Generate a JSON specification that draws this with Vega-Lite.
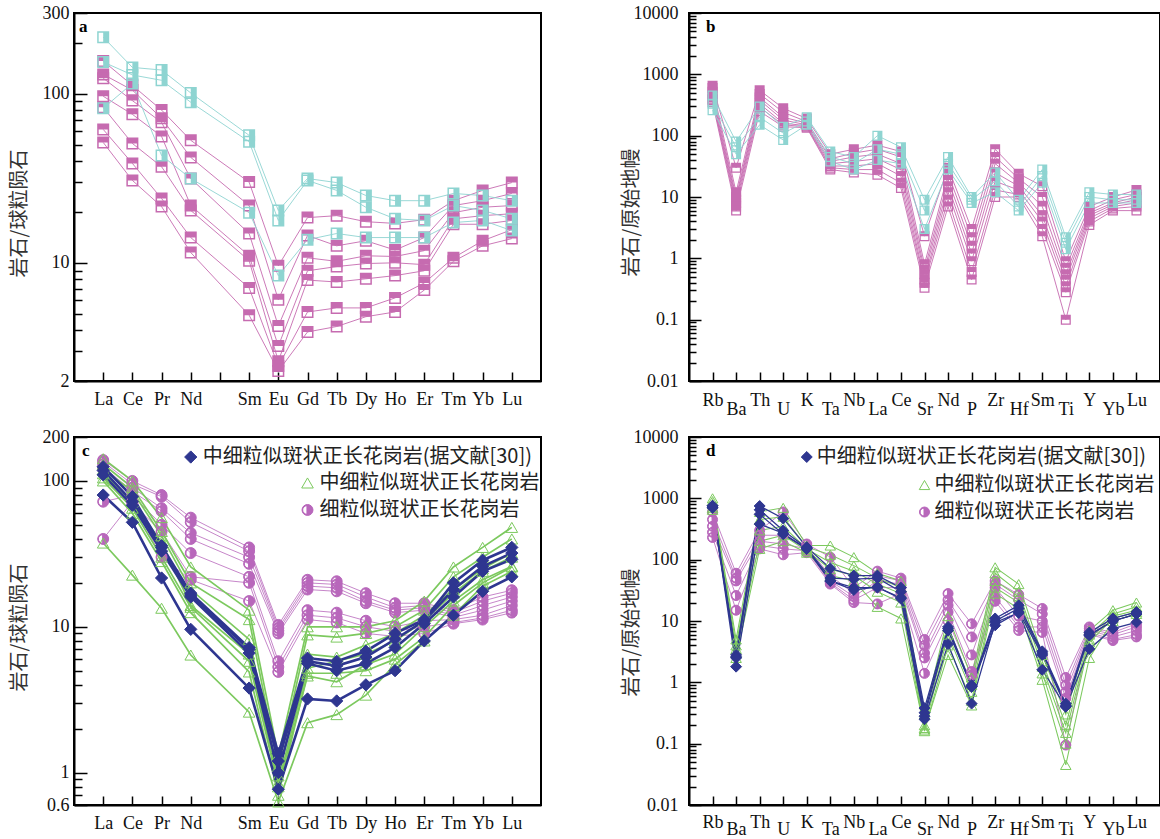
{
"$schema": "https://vega.github.io/schema/vega-lite/v6.json",
"background": "white",
"padding": {"left": 8, "top": 3, "right": 0, "bottom": 0},
"datasets": {
"a": [
{"g":"z","i":1,"e":"La","v":156},{"g":"z","i":1,"e":"Ce","v":112},{"g":"z","i":1,"e":"Pr","v":80},{"g":"z","i":1,"e":"Nd","v":53},{"g":"z","i":1,"e":"Sm","v":30},{"g":"z","i":1,"e":"Eu","v":9.6},{"g":"z","i":1,"e":"Gd","v":18.5},{"g":"z","i":1,"e":"Tb","v":19},{"g":"z","i":1,"e":"Dy","v":17.5},{"g":"z","i":1,"e":"Ho","v":17.1},{"g":"z","i":1,"e":"Er","v":18},{"g":"z","i":1,"e":"Tm","v":23.3},{"g":"z","i":1,"e":"Yb","v":26.8},{"g":"z","i":1,"e":"Lu","v":29.8},
{"g":"z","i":2,"e":"La","v":130},{"g":"z","i":2,"e":"Ce","v":105},{"g":"z","i":2,"e":"Pr","v":71.5},{"g":"z","i":2,"e":"Nd","v":42},{"g":"z","i":2,"e":"Sm","v":21.8},{"g":"z","i":2,"e":"Eu","v":6.05},{"g":"z","i":2,"e":"Gd","v":14.5},{"g":"z","i":2,"e":"Tb","v":12.6},{"g":"z","i":2,"e":"Dy","v":13.5},{"g":"z","i":2,"e":"Ho","v":11.9},{"g":"z","i":2,"e":"Er","v":14.1},{"g":"z","i":2,"e":"Tm","v":21.8},{"g":"z","i":2,"e":"Yb","v":23.3},{"g":"z","i":2,"e":"Lu","v":25.7},
{"g":"z","i":3,"e":"La","v":123.5},{"g":"z","i":3,"e":"Ce","v":91},{"g":"z","i":3,"e":"Pr","v":67.7},{"g":"z","i":3,"e":"Nd","v":31.5},{"g":"z","i":3,"e":"Sm","v":14.9},{"g":"z","i":3,"e":"Eu","v":4.23},{"g":"z","i":3,"e":"Gd","v":10.7},{"g":"z","i":3,"e":"Tb","v":10.2},{"g":"z","i":3,"e":"Dy","v":11},{"g":"z","i":3,"e":"Ho","v":10.9},{"g":"z","i":3,"e":"Er","v":11.8},{"g":"z","i":3,"e":"Tm","v":19.8},{"g":"z","i":3,"e":"Yb","v":21.3},{"g":"z","i":3,"e":"Lu","v":21.8},
{"g":"z","i":4,"e":"La","v":96.6},{"g":"z","i":4,"e":"Ce","v":75.5},{"g":"z","i":4,"e":"Pr","v":55.9},{"g":"z","i":4,"e":"Nd","v":21.8},{"g":"z","i":4,"e":"Sm","v":11},{"g":"z","i":4,"e":"Eu","v":3.22},{"g":"z","i":4,"e":"Gd","v":8.97},{"g":"z","i":4,"e":"Tb","v":9.5},{"g":"z","i":4,"e":"Dy","v":9.9},{"g":"z","i":4,"e":"Ho","v":10},{"g":"z","i":4,"e":"Er","v":9.75},{"g":"z","i":4,"e":"Tm","v":18.2},{"g":"z","i":4,"e":"Yb","v":19},{"g":"z","i":4,"e":"Lu","v":19.5},
{"g":"z","i":5,"e":"La","v":83},{"g":"z","i":5,"e":"Ce","v":50.8},{"g":"z","i":5,"e":"Pr","v":37},{"g":"z","i":5,"e":"Nd","v":20.4},{"g":"z","i":5,"e":"Sm","v":10.3},{"g":"z","i":5,"e":"Eu","v":2.62},{"g":"z","i":5,"e":"Gd","v":7.9},{"g":"z","i":5,"e":"Tb","v":7.7},{"g":"z","i":5,"e":"Dy","v":8.04},{"g":"z","i":5,"e":"Ho","v":8.4},{"g":"z","i":5,"e":"Er","v":8.97},{"g":"z","i":5,"e":"Tm","v":16.9},{"g":"z","i":5,"e":"Yb","v":16.9},{"g":"z","i":5,"e":"Lu","v":17.8},
{"g":"z","i":6,"e":"La","v":61.5},{"g":"z","i":6,"e":"Ce","v":38.7},{"g":"z","i":6,"e":"Pr","v":24},{"g":"z","i":6,"e":"Nd","v":14.1},{"g":"z","i":6,"e":"Sm","v":7.1},{"g":"z","i":6,"e":"Eu","v":2.45},{"g":"z","i":6,"e":"Gd","v":5.12},{"g":"z","i":6,"e":"Tb","v":5.41},{"g":"z","i":6,"e":"Dy","v":5.41},{"g":"z","i":6,"e":"Ho","v":6.2},{"g":"z","i":6,"e":"Er","v":7.6},{"g":"z","i":6,"e":"Tm","v":10.7},{"g":"z","i":6,"e":"Yb","v":13.5},{"g":"z","i":6,"e":"Lu","v":15.7},
{"g":"z","i":7,"e":"La","v":51.5},{"g":"z","i":7,"e":"Ce","v":30.7},{"g":"z","i":7,"e":"Pr","v":21.5},{"g":"z","i":7,"e":"Nd","v":11.5},{"g":"z","i":7,"e":"Sm","v":4.9},{"g":"z","i":7,"e":"Eu","v":2.29},{"g":"z","i":7,"e":"Gd","v":3.9},{"g":"z","i":7,"e":"Tb","v":4.2},{"g":"z","i":7,"e":"Dy","v":4.8},{"g":"z","i":7,"e":"Ho","v":5.12},{"g":"z","i":7,"e":"Er","v":6.9},{"g":"z","i":7,"e":"Tm","v":10.2},{"g":"z","i":7,"e":"Yb","v":12.6},{"g":"z","i":7,"e":"Lu","v":13.9},
{"g":"m","i":1,"e":"La","v":216},{"g":"m","i":1,"e":"Ce","v":143},{"g":"m","i":1,"e":"Pr","v":138},{"g":"m","i":1,"e":"Nd","v":101},{"g":"m","i":1,"e":"Sm","v":56.7},{"g":"m","i":1,"e":"Eu","v":20.4},{"g":"m","i":1,"e":"Gd","v":31.5},{"g":"m","i":1,"e":"Tb","v":29.8},{"g":"m","i":1,"e":"Dy","v":25},{"g":"m","i":1,"e":"Ho","v":23.3},{"g":"m","i":1,"e":"Er","v":23.3},{"g":"m","i":1,"e":"Tm","v":25.7},{"g":"m","i":1,"e":"Yb","v":25},{"g":"m","i":1,"e":"Lu","v":23.3},
{"g":"m","i":2,"e":"La","v":154},{"g":"m","i":2,"e":"Ce","v":129},{"g":"m","i":2,"e":"Pr","v":120},{"g":"m","i":2,"e":"Nd","v":89},{"g":"m","i":2,"e":"Sm","v":52},{"g":"m","i":2,"e":"Eu","v":17.8},{"g":"m","i":2,"e":"Gd","v":30.7},{"g":"m","i":2,"e":"Tb","v":26.8},{"g":"m","i":2,"e":"Dy","v":21.3},{"g":"m","i":2,"e":"Ho","v":18.2},{"g":"m","i":2,"e":"Er","v":17.8},{"g":"m","i":2,"e":"Tm","v":21.8},{"g":"m","i":2,"e":"Yb","v":20.4},{"g":"m","i":2,"e":"Lu","v":18.2},
{"g":"m","i":3,"e":"La","v":82},{"g":"m","i":3,"e":"Ce","v":115},{"g":"m","i":3,"e":"Pr","v":43.1},{"g":"m","i":3,"e":"Nd","v":31.5},{"g":"m","i":3,"e":"Sm","v":19.8},{"g":"m","i":3,"e":"Eu","v":8.4},{"g":"m","i":3,"e":"Gd","v":13.7},{"g":"m","i":3,"e":"Tb","v":14.9},{"g":"m","i":3,"e":"Dy","v":14.1},{"g":"m","i":3,"e":"Ho","v":14.1},{"g":"m","i":3,"e":"Er","v":14.1},{"g":"m","i":3,"e":"Tm","v":17.3},{"g":"m","i":3,"e":"Yb","v":17.8},{"g":"m","i":3,"e":"Lu","v":15.5}
],
"b": [
{"g":"z","i":1,"e":"Rb","v":650},{"g":"z","i":1,"e":"Ba","v":30},{"g":"z","i":1,"e":"Th","v":550},{"g":"z","i":1,"e":"U","v":280},{"g":"z","i":1,"e":"K","v":190},{"g":"z","i":1,"e":"Ta","v":50},{"g":"z","i":1,"e":"Nb","v":60},{"g":"z","i":1,"e":"La","v":70},{"g":"z","i":1,"e":"Ce","v":55},{"g":"z","i":1,"e":"Sr","v":2.3},{"g":"z","i":1,"e":"Nd","v":30},{"g":"z","i":1,"e":"P","v":3},{"g":"z","i":1,"e":"Zr","v":60},{"g":"z","i":1,"e":"Hf","v":24},{"g":"z","i":1,"e":"Sm","v":15},{"g":"z","i":1,"e":"Ti","v":0.9},{"g":"z","i":1,"e":"Y","v":7},{"g":"z","i":1,"e":"Yb","v":10},{"g":"z","i":1,"e":"Lu","v":13},
{"g":"z","i":2,"e":"Rb","v":600},{"g":"z","i":2,"e":"Ba","v":12},{"g":"z","i":2,"e":"Th","v":480},{"g":"z","i":2,"e":"U","v":240},{"g":"z","i":2,"e":"K","v":170},{"g":"z","i":2,"e":"Ta","v":42},{"g":"z","i":2,"e":"Nb","v":52},{"g":"z","i":2,"e":"La","v":60},{"g":"z","i":2,"e":"Ce","v":45},{"g":"z","i":2,"e":"Sr","v":0.8},{"g":"z","i":2,"e":"Nd","v":24},{"g":"z","i":2,"e":"P","v":2.2},{"g":"z","i":2,"e":"Zr","v":45},{"g":"z","i":2,"e":"Hf","v":20},{"g":"z","i":2,"e":"Sm","v":10},{"g":"z","i":2,"e":"Ti","v":0.7},{"g":"z","i":2,"e":"Y","v":6},{"g":"z","i":2,"e":"Yb","v":9},{"g":"z","i":2,"e":"Lu","v":11},
{"g":"z","i":3,"e":"Rb","v":520},{"g":"z","i":3,"e":"Ba","v":10},{"g":"z","i":3,"e":"Th","v":420},{"g":"z","i":3,"e":"U","v":200},{"g":"z","i":3,"e":"K","v":160},{"g":"z","i":3,"e":"Ta","v":38},{"g":"z","i":3,"e":"Nb","v":45},{"g":"z","i":3,"e":"La","v":50},{"g":"z","i":3,"e":"Ce","v":35},{"g":"z","i":3,"e":"Sr","v":0.65},{"g":"z","i":3,"e":"Nd","v":19},{"g":"z","i":3,"e":"P","v":1.6},{"g":"z","i":3,"e":"Zr","v":35},{"g":"z","i":3,"e":"Hf","v":17},{"g":"z","i":3,"e":"Sm","v":7},{"g":"z","i":3,"e":"Ti","v":0.55},{"g":"z","i":3,"e":"Y","v":5.5},{"g":"z","i":3,"e":"Yb","v":8},{"g":"z","i":3,"e":"Lu","v":10},
{"g":"z","i":4,"e":"Rb","v":450},{"g":"z","i":4,"e":"Ba","v":9},{"g":"z","i":4,"e":"Th","v":380},{"g":"z","i":4,"e":"U","v":180},{"g":"z","i":4,"e":"K","v":150},{"g":"z","i":4,"e":"Ta","v":35},{"g":"z","i":4,"e":"Nb","v":38},{"g":"z","i":4,"e":"La","v":42},{"g":"z","i":4,"e":"Ce","v":28},{"g":"z","i":4,"e":"Sr","v":0.55},{"g":"z","i":4,"e":"Nd","v":15},{"g":"z","i":4,"e":"P","v":1.2},{"g":"z","i":4,"e":"Zr","v":25},{"g":"z","i":4,"e":"Hf","v":15},{"g":"z","i":4,"e":"Sm","v":5},{"g":"z","i":4,"e":"Ti","v":0.45},{"g":"z","i":4,"e":"Y","v":5},{"g":"z","i":4,"e":"Yb","v":7.5},{"g":"z","i":4,"e":"Lu","v":9},
{"g":"z","i":5,"e":"Rb","v":400},{"g":"z","i":5,"e":"Ba","v":8},{"g":"z","i":5,"e":"Th","v":330},{"g":"z","i":5,"e":"U","v":160},{"g":"z","i":5,"e":"K","v":145},{"g":"z","i":5,"e":"Ta","v":32},{"g":"z","i":5,"e":"Nb","v":32},{"g":"z","i":5,"e":"La","v":35},{"g":"z","i":5,"e":"Ce","v":22},{"g":"z","i":5,"e":"Sr","v":0.45},{"g":"z","i":5,"e":"Nd","v":12},{"g":"z","i":5,"e":"P","v":0.9},{"g":"z","i":5,"e":"Zr","v":18},{"g":"z","i":5,"e":"Hf","v":13},{"g":"z","i":5,"e":"Sm","v":4},{"g":"z","i":5,"e":"Ti","v":0.35},{"g":"z","i":5,"e":"Y","v":4.5},{"g":"z","i":5,"e":"Yb","v":7},{"g":"z","i":5,"e":"Lu","v":8},
{"g":"z","i":6,"e":"Rb","v":380},{"g":"z","i":6,"e":"Ba","v":7},{"g":"z","i":6,"e":"Th","v":290},{"g":"z","i":6,"e":"U","v":150},{"g":"z","i":6,"e":"K","v":140},{"g":"z","i":6,"e":"Ta","v":30},{"g":"z","i":6,"e":"Nb","v":28},{"g":"z","i":6,"e":"La","v":28},{"g":"z","i":6,"e":"Ce","v":17},{"g":"z","i":6,"e":"Sr","v":0.4},{"g":"z","i":6,"e":"Nd","v":9},{"g":"z","i":6,"e":"P","v":0.6},{"g":"z","i":6,"e":"Zr","v":13},{"g":"z","i":6,"e":"Hf","v":11},{"g":"z","i":6,"e":"Sm","v":3},{"g":"z","i":6,"e":"Ti","v":0.28},{"g":"z","i":6,"e":"Y","v":4},{"g":"z","i":6,"e":"Yb","v":6.5},{"g":"z","i":6,"e":"Lu","v":7},
{"g":"z","i":7,"e":"Rb","v":350},{"g":"z","i":7,"e":"Ba","v":6},{"g":"z","i":7,"e":"Th","v":250},{"g":"z","i":7,"e":"U","v":140},{"g":"z","i":7,"e":"K","v":135},{"g":"z","i":7,"e":"Ta","v":28},{"g":"z","i":7,"e":"Nb","v":25},{"g":"z","i":7,"e":"La","v":23},{"g":"z","i":7,"e":"Ce","v":14},{"g":"z","i":7,"e":"Sr","v":0.33},{"g":"z","i":7,"e":"Nd","v":7},{"g":"z","i":7,"e":"P","v":0.45},{"g":"z","i":7,"e":"Zr","v":10},{"g":"z","i":7,"e":"Hf","v":10},{"g":"z","i":7,"e":"Sm","v":2.3},{"g":"z","i":7,"e":"Ti","v":0.1},{"g":"z","i":7,"e":"Y","v":3.5},{"g":"z","i":7,"e":"Yb","v":6},{"g":"z","i":7,"e":"Lu","v":6},
{"g":"m","i":1,"e":"Rb","v":450},{"g":"m","i":1,"e":"Ba","v":80},{"g":"m","i":1,"e":"Th","v":300},{"g":"m","i":1,"e":"U","v":140},{"g":"m","i":1,"e":"K","v":200},{"g":"m","i":1,"e":"Ta","v":55},{"g":"m","i":1,"e":"Nb","v":45},{"g":"m","i":1,"e":"La","v":100},{"g":"m","i":1,"e":"Ce","v":65},{"g":"m","i":1,"e":"Sr","v":9},{"g":"m","i":1,"e":"Nd","v":45},{"g":"m","i":1,"e":"P","v":10},{"g":"m","i":1,"e":"Zr","v":25},{"g":"m","i":1,"e":"Hf","v":9},{"g":"m","i":1,"e":"Sm","v":28},{"g":"m","i":1,"e":"Ti","v":2.2},{"g":"m","i":1,"e":"Y","v":12},{"g":"m","i":1,"e":"Yb","v":11},{"g":"m","i":1,"e":"Lu","v":11},
{"g":"m","i":2,"e":"Rb","v":330},{"g":"m","i":2,"e":"Ba","v":65},{"g":"m","i":2,"e":"Th","v":200},{"g":"m","i":2,"e":"U","v":110},{"g":"m","i":2,"e":"K","v":170},{"g":"m","i":2,"e":"Ta","v":45},{"g":"m","i":2,"e":"Nb","v":35},{"g":"m","i":2,"e":"La","v":60},{"g":"m","i":2,"e":"Ce","v":50},{"g":"m","i":2,"e":"Sr","v":6},{"g":"m","i":2,"e":"Nd","v":35},{"g":"m","i":2,"e":"P","v":9},{"g":"m","i":2,"e":"Zr","v":18},{"g":"m","i":2,"e":"Hf","v":7},{"g":"m","i":2,"e":"Sm","v":22},{"g":"m","i":2,"e":"Ti","v":1.8},{"g":"m","i":2,"e":"Y","v":10},{"g":"m","i":2,"e":"Yb","v":9},{"g":"m","i":2,"e":"Lu","v":9},
{"g":"m","i":3,"e":"Rb","v":260},{"g":"m","i":3,"e":"Ba","v":50},{"g":"m","i":3,"e":"Th","v":150},{"g":"m","i":3,"e":"U","v":85},{"g":"m","i":3,"e":"K","v":150},{"g":"m","i":3,"e":"Ta","v":38},{"g":"m","i":3,"e":"Nb","v":28},{"g":"m","i":3,"e":"La","v":40},{"g":"m","i":3,"e":"Ce","v":35},{"g":"m","i":3,"e":"Sr","v":3},{"g":"m","i":3,"e":"Nd","v":28},{"g":"m","i":3,"e":"P","v":8},{"g":"m","i":3,"e":"Zr","v":12},{"g":"m","i":3,"e":"Hf","v":6},{"g":"m","i":3,"e":"Sm","v":17},{"g":"m","i":3,"e":"Ti","v":1.4},{"g":"m","i":3,"e":"Y","v":8},{"g":"m","i":3,"e":"Yb","v":8},{"g":"m","i":3,"e":"Lu","v":8}
],
"c": [
{"g":"m","i":1,"e":"La","v":139},{"g":"m","i":1,"e":"Ce","v":100},{"g":"m","i":1,"e":"Pr","v":80},{"g":"m","i":1,"e":"Nd","v":56},{"g":"m","i":1,"e":"Sm","v":35},{"g":"m","i":1,"e":"Eu","v":10.3},{"g":"m","i":1,"e":"Gd","v":21},{"g":"m","i":1,"e":"Tb","v":20.5},{"g":"m","i":1,"e":"Dy","v":17},{"g":"m","i":1,"e":"Ho","v":14.5},{"g":"m","i":1,"e":"Er","v":14.5},{"g":"m","i":1,"e":"Tm","v":13},{"g":"m","i":1,"e":"Yb","v":16},{"g":"m","i":1,"e":"Lu","v":17.8},
{"g":"m","i":2,"e":"La","v":135},{"g":"m","i":2,"e":"Ce","v":95},{"g":"m","i":2,"e":"Pr","v":78},{"g":"m","i":2,"e":"Nd","v":52},{"g":"m","i":2,"e":"Sm","v":33},{"g":"m","i":2,"e":"Eu","v":9.8},{"g":"m","i":2,"e":"Gd","v":20},{"g":"m","i":2,"e":"Tb","v":19.5},{"g":"m","i":2,"e":"Dy","v":16},{"g":"m","i":2,"e":"Ho","v":13.5},{"g":"m","i":2,"e":"Er","v":14},{"g":"m","i":2,"e":"Tm","v":12.5},{"g":"m","i":2,"e":"Yb","v":15},{"g":"m","i":2,"e":"Lu","v":17},
{"g":"m","i":3,"e":"La","v":130},{"g":"m","i":3,"e":"Ce","v":90},{"g":"m","i":3,"e":"Pr","v":65},{"g":"m","i":3,"e":"Nd","v":44},{"g":"m","i":3,"e":"Sm","v":30},{"g":"m","i":3,"e":"Eu","v":9.4},{"g":"m","i":3,"e":"Gd","v":19},{"g":"m","i":3,"e":"Tb","v":18.5},{"g":"m","i":3,"e":"Dy","v":15},{"g":"m","i":3,"e":"Ho","v":13},{"g":"m","i":3,"e":"Er","v":13.5},{"g":"m","i":3,"e":"Tm","v":12},{"g":"m","i":3,"e":"Yb","v":14},{"g":"m","i":3,"e":"Lu","v":16},
{"g":"m","i":4,"e":"La","v":125},{"g":"m","i":4,"e":"Ce","v":85},{"g":"m","i":4,"e":"Pr","v":62},{"g":"m","i":4,"e":"Nd","v":40},{"g":"m","i":4,"e":"Sm","v":27},{"g":"m","i":4,"e":"Eu","v":9.0},{"g":"m","i":4,"e":"Gd","v":18},{"g":"m","i":4,"e":"Tb","v":17.5},{"g":"m","i":4,"e":"Dy","v":14.5},{"g":"m","i":4,"e":"Ho","v":12.5},{"g":"m","i":4,"e":"Er","v":13},{"g":"m","i":4,"e":"Tm","v":11.6},{"g":"m","i":4,"e":"Yb","v":13},{"g":"m","i":4,"e":"Lu","v":15},
{"g":"m","i":5,"e":"La","v":72},{"g":"m","i":5,"e":"Ce","v":80},{"g":"m","i":5,"e":"Pr","v":50},{"g":"m","i":5,"e":"Nd","v":32},{"g":"m","i":5,"e":"Sm","v":22},{"g":"m","i":5,"e":"Eu","v":5.8},{"g":"m","i":5,"e":"Gd","v":13},{"g":"m","i":5,"e":"Tb","v":12.5},{"g":"m","i":5,"e":"Dy","v":11},{"g":"m","i":5,"e":"Ho","v":10},{"g":"m","i":5,"e":"Er","v":11},{"g":"m","i":5,"e":"Tm","v":11.2},{"g":"m","i":5,"e":"Yb","v":12},{"g":"m","i":5,"e":"Lu","v":14},
{"g":"m","i":6,"e":"La","v":120},{"g":"m","i":6,"e":"Ce","v":70},{"g":"m","i":6,"e":"Pr","v":45},{"g":"m","i":6,"e":"Nd","v":22},{"g":"m","i":6,"e":"Sm","v":20},{"g":"m","i":6,"e":"Eu","v":5.3},{"g":"m","i":6,"e":"Gd","v":12},{"g":"m","i":6,"e":"Tb","v":11.5},{"g":"m","i":6,"e":"Dy","v":10},{"g":"m","i":6,"e":"Ho","v":9.3},{"g":"m","i":6,"e":"Er","v":10},{"g":"m","i":6,"e":"Tm","v":10.7},{"g":"m","i":6,"e":"Yb","v":11.5},{"g":"m","i":6,"e":"Lu","v":13},
{"g":"m","i":7,"e":"La","v":40},{"g":"m","i":7,"e":"Ce","v":72},{"g":"m","i":7,"e":"Pr","v":30},{"g":"m","i":7,"e":"Nd","v":21},{"g":"m","i":7,"e":"Sm","v":15},{"g":"m","i":7,"e":"Eu","v":4.9},{"g":"m","i":7,"e":"Gd","v":11.2},{"g":"m","i":7,"e":"Tb","v":10.7},{"g":"m","i":7,"e":"Dy","v":9},{"g":"m","i":7,"e":"Ho","v":8.6},{"g":"m","i":7,"e":"Er","v":9},{"g":"m","i":7,"e":"Tm","v":10.5},{"g":"m","i":7,"e":"Yb","v":11.2},{"g":"m","i":7,"e":"Lu","v":12.5},
{"g":"g","i":1,"e":"La","v":142},{"g":"g","i":1,"e":"Ce","v":100},{"g":"g","i":1,"e":"Pr","v":56},{"g":"g","i":1,"e":"Nd","v":25.7},{"g":"g","i":1,"e":"Sm","v":13},{"g":"g","i":1,"e":"Eu","v":1.3},{"g":"g","i":1,"e":"Gd","v":10},{"g":"g","i":1,"e":"Tb","v":10},{"g":"g","i":1,"e":"Dy","v":10},{"g":"g","i":1,"e":"Ho","v":11},{"g":"g","i":1,"e":"Er","v":15},{"g":"g","i":1,"e":"Tm","v":25.7},{"g":"g","i":1,"e":"Yb","v":35},{"g":"g","i":1,"e":"Lu","v":48},
{"g":"g","i":2,"e":"La","v":130},{"g":"g","i":2,"e":"Ce","v":90},{"g":"g","i":2,"e":"Pr","v":45},{"g":"g","i":2,"e":"Nd","v":20},{"g":"g","i":2,"e":"Sm","v":11.2},{"g":"g","i":2,"e":"Eu","v":1.1},{"g":"g","i":2,"e":"Gd","v":8.8},{"g":"g","i":2,"e":"Tb","v":8.5},{"g":"g","i":2,"e":"Dy","v":9},{"g":"g","i":2,"e":"Ho","v":10},{"g":"g","i":2,"e":"Er","v":13},{"g":"g","i":2,"e":"Tm","v":22},{"g":"g","i":2,"e":"Yb","v":30},{"g":"g","i":2,"e":"Lu","v":40},
{"g":"g","i":3,"e":"La","v":120},{"g":"g","i":3,"e":"Ce","v":85},{"g":"g","i":3,"e":"Pr","v":42},{"g":"g","i":3,"e":"Nd","v":18},{"g":"g","i":3,"e":"Sm","v":8.2},{"g":"g","i":3,"e":"Eu","v":0.95},{"g":"g","i":3,"e":"Gd","v":6.5},{"g":"g","i":3,"e":"Tb","v":6.2},{"g":"g","i":3,"e":"Dy","v":7.5},{"g":"g","i":3,"e":"Ho","v":9},{"g":"g","i":3,"e":"Er","v":12},{"g":"g","i":3,"e":"Tm","v":18},{"g":"g","i":3,"e":"Yb","v":25},{"g":"g","i":3,"e":"Lu","v":32},
{"g":"g","i":4,"e":"La","v":112},{"g":"g","i":4,"e":"Ce","v":72},{"g":"g","i":4,"e":"Pr","v":38},{"g":"g","i":4,"e":"Nd","v":14},{"g":"g","i":4,"e":"Sm","v":6.5},{"g":"g","i":4,"e":"Eu","v":0.85},{"g":"g","i":4,"e":"Gd","v":5.2},{"g":"g","i":4,"e":"Tb","v":5.8},{"g":"g","i":4,"e":"Dy","v":6.5},{"g":"g","i":4,"e":"Ho","v":8},{"g":"g","i":4,"e":"Er","v":11},{"g":"g","i":4,"e":"Tm","v":17},{"g":"g","i":4,"e":"Yb","v":24},{"g":"g","i":4,"e":"Lu","v":30},
{"g":"g","i":5,"e":"La","v":105},{"g":"g","i":5,"e":"Ce","v":65},{"g":"g","i":5,"e":"Pr","v":30},{"g":"g","i":5,"e":"Nd","v":13.6},{"g":"g","i":5,"e":"Sm","v":5.8},{"g":"g","i":5,"e":"Eu","v":0.8},{"g":"g","i":5,"e":"Gd","v":4.6},{"g":"g","i":5,"e":"Tb","v":4.2},{"g":"g","i":5,"e":"Dy","v":5.5},{"g":"g","i":5,"e":"Ho","v":6.5},{"g":"g","i":5,"e":"Er","v":10},{"g":"g","i":5,"e":"Tm","v":15},{"g":"g","i":5,"e":"Yb","v":21},{"g":"g","i":5,"e":"Lu","v":26},
{"g":"g","i":6,"e":"La","v":100},{"g":"g","i":6,"e":"Ce","v":60},{"g":"g","i":6,"e":"Pr","v":28},{"g":"g","i":6,"e":"Nd","v":12.5},{"g":"g","i":6,"e":"Sm","v":4.9},{"g":"g","i":6,"e":"Eu","v":0.7},{"g":"g","i":6,"e":"Gd","v":4.8},{"g":"g","i":6,"e":"Tb","v":4.8},{"g":"g","i":6,"e":"Dy","v":5},{"g":"g","i":6,"e":"Ho","v":6},{"g":"g","i":6,"e":"Er","v":8.5},{"g":"g","i":6,"e":"Tm","v":14},{"g":"g","i":6,"e":"Yb","v":20},{"g":"g","i":6,"e":"Lu","v":25.7},
{"g":"g","i":7,"e":"La","v":37.5},{"g":"g","i":7,"e":"Ce","v":22.6},{"g":"g","i":7,"e":"Pr","v":13.4},{"g":"g","i":7,"e":"Nd","v":6.4},{"g":"g","i":7,"e":"Sm","v":2.6},{"g":"g","i":7,"e":"Eu","v":0.63},{"g":"g","i":7,"e":"Gd","v":2.2},{"g":"g","i":7,"e":"Tb","v":2.5},{"g":"g","i":7,"e":"Dy","v":3.4},{"g":"g","i":7,"e":"Ho","v":5.5},{"g":"g","i":7,"e":"Er","v":8},{"g":"g","i":7,"e":"Tm","v":12},{"g":"g","i":7,"e":"Yb","v":19},{"g":"g","i":7,"e":"Lu","v":24},
{"g":"b","i":1,"e":"La","v":125},{"g":"b","i":1,"e":"Ce","v":78},{"g":"b","i":1,"e":"Pr","v":36},{"g":"b","i":1,"e":"Nd","v":17},{"g":"b","i":1,"e":"Sm","v":7.2},{"g":"b","i":1,"e":"Eu","v":1.35},{"g":"b","i":1,"e":"Gd","v":6.1},{"g":"b","i":1,"e":"Tb","v":5.8},{"g":"b","i":1,"e":"Dy","v":6.8},{"g":"b","i":1,"e":"Ho","v":9},{"g":"b","i":1,"e":"Er","v":11.2},{"g":"b","i":1,"e":"Tm","v":20},{"g":"b","i":1,"e":"Yb","v":28.6},{"g":"b","i":1,"e":"Lu","v":35},
{"g":"b","i":2,"e":"La","v":118},{"g":"b","i":2,"e":"Ce","v":72},{"g":"b","i":2,"e":"Pr","v":35},{"g":"b","i":2,"e":"Nd","v":16.5},{"g":"b","i":2,"e":"Sm","v":7},{"g":"b","i":2,"e":"Eu","v":1.2},{"g":"b","i":2,"e":"Gd","v":5.8},{"g":"b","i":2,"e":"Tb","v":5.4},{"g":"b","i":2,"e":"Dy","v":6.2},{"g":"b","i":2,"e":"Ho","v":8.2},{"g":"b","i":2,"e":"Er","v":11},{"g":"b","i":2,"e":"Tm","v":18},{"g":"b","i":2,"e":"Yb","v":26},{"g":"b","i":2,"e":"Lu","v":32},
{"g":"b","i":3,"e":"La","v":110},{"g":"b","i":3,"e":"Ce","v":68},{"g":"b","i":3,"e":"Pr","v":33},{"g":"b","i":3,"e":"Nd","v":16},{"g":"b","i":3,"e":"Sm","v":6.6},{"g":"b","i":3,"e":"Eu","v":1.0},{"g":"b","i":3,"e":"Gd","v":5.6},{"g":"b","i":3,"e":"Tb","v":5.0},{"g":"b","i":3,"e":"Dy","v":5.6},{"g":"b","i":3,"e":"Ho","v":7.2},{"g":"b","i":3,"e":"Er","v":10.5},{"g":"b","i":3,"e":"Tm","v":16},{"g":"b","i":3,"e":"Yb","v":24},{"g":"b","i":3,"e":"Lu","v":29},
{"g":"b","i":4,"e":"La","v":80},{"g":"b","i":4,"e":"Ce","v":52},{"g":"b","i":4,"e":"Pr","v":21.6},{"g":"b","i":4,"e":"Nd","v":9.6},{"g":"b","i":4,"e":"Sm","v":3.8},{"g":"b","i":4,"e":"Eu","v":0.77},{"g":"b","i":4,"e":"Gd","v":3.2},{"g":"b","i":4,"e":"Tb","v":3.1},{"g":"b","i":4,"e":"Dy","v":4.0},{"g":"b","i":4,"e":"Ho","v":5.0},{"g":"b","i":4,"e":"Er","v":8.0},{"g":"b","i":4,"e":"Tm","v":12},{"g":"b","i":4,"e":"Yb","v":17.5},{"g":"b","i":4,"e":"Lu","v":22}
],
"d": [
{"g":"m","i":1,"e":"Rb","v":600},{"g":"m","i":1,"e":"Ba","v":60},{"g":"m","i":1,"e":"Th","v":300},{"g":"m","i":1,"e":"U","v":600},{"g":"m","i":1,"e":"K","v":180},{"g":"m","i":1,"e":"Ta","v":110},{"g":"m","i":1,"e":"Nb","v":35},{"g":"m","i":1,"e":"La","v":65},{"g":"m","i":1,"e":"Ce","v":50},{"g":"m","i":1,"e":"Sr","v":5},{"g":"m","i":1,"e":"Nd","v":28},{"g":"m","i":1,"e":"P","v":9},{"g":"m","i":1,"e":"Zr","v":45},{"g":"m","i":1,"e":"Hf","v":27},{"g":"m","i":1,"e":"Sm","v":16},{"g":"m","i":1,"e":"Ti","v":1.2},{"g":"m","i":1,"e":"Y","v":8},{"g":"m","i":1,"e":"Yb","v":6.5},{"g":"m","i":1,"e":"Lu","v":9},
{"g":"m","i":2,"e":"Rb","v":450},{"g":"m","i":2,"e":"Ba","v":50},{"g":"m","i":2,"e":"Th","v":250},{"g":"m","i":2,"e":"U","v":250},{"g":"m","i":2,"e":"K","v":160},{"g":"m","i":2,"e":"Ta","v":55},{"g":"m","i":2,"e":"Nb","v":28},{"g":"m","i":2,"e":"La","v":55},{"g":"m","i":2,"e":"Ce","v":45},{"g":"m","i":2,"e":"Sr","v":4},{"g":"m","i":2,"e":"Nd","v":22},{"g":"m","i":2,"e":"P","v":5.5},{"g":"m","i":2,"e":"Zr","v":40},{"g":"m","i":2,"e":"Hf","v":22},{"g":"m","i":2,"e":"Sm","v":13},{"g":"m","i":2,"e":"Ti","v":0.9},{"g":"m","i":2,"e":"Y","v":7.5},{"g":"m","i":2,"e":"Yb","v":6},{"g":"m","i":2,"e":"Lu","v":8},
{"g":"m","i":3,"e":"Rb","v":350},{"g":"m","i":3,"e":"Ba","v":45},{"g":"m","i":3,"e":"Th","v":200},{"g":"m","i":3,"e":"U","v":180},{"g":"m","i":3,"e":"K","v":150},{"g":"m","i":3,"e":"Ta","v":45},{"g":"m","i":3,"e":"Nb","v":25},{"g":"m","i":3,"e":"La","v":45},{"g":"m","i":3,"e":"Ce","v":40},{"g":"m","i":3,"e":"Sr","v":3},{"g":"m","i":3,"e":"Nd","v":18},{"g":"m","i":3,"e":"P","v":2.8},{"g":"m","i":3,"e":"Zr","v":35},{"g":"m","i":3,"e":"Hf","v":12},{"g":"m","i":3,"e":"Sm","v":10},{"g":"m","i":3,"e":"Ti","v":0.7},{"g":"m","i":3,"e":"Y","v":7},{"g":"m","i":3,"e":"Yb","v":5.5},{"g":"m","i":3,"e":"Lu","v":7},
{"g":"m","i":4,"e":"Rb","v":280},{"g":"m","i":4,"e":"Ba","v":26},{"g":"m","i":4,"e":"Th","v":170},{"g":"m","i":4,"e":"U","v":150},{"g":"m","i":4,"e":"K","v":140},{"g":"m","i":4,"e":"Ta","v":42},{"g":"m","i":4,"e":"Nb","v":22},{"g":"m","i":4,"e":"La","v":35},{"g":"m","i":4,"e":"Ce","v":35},{"g":"m","i":4,"e":"Sr","v":2.5},{"g":"m","i":4,"e":"Nd","v":14},{"g":"m","i":4,"e":"P","v":1.5},{"g":"m","i":4,"e":"Zr","v":25},{"g":"m","i":4,"e":"Hf","v":8},{"g":"m","i":4,"e":"Sm","v":8},{"g":"m","i":4,"e":"Ti","v":0.55},{"g":"m","i":4,"e":"Y","v":6.5},{"g":"m","i":4,"e":"Yb","v":5},{"g":"m","i":4,"e":"Lu","v":6},
{"g":"m","i":5,"e":"Rb","v":230},{"g":"m","i":5,"e":"Ba","v":15},{"g":"m","i":5,"e":"Th","v":150},{"g":"m","i":5,"e":"U","v":120},{"g":"m","i":5,"e":"K","v":130},{"g":"m","i":5,"e":"Ta","v":40},{"g":"m","i":5,"e":"Nb","v":20},{"g":"m","i":5,"e":"La","v":19},{"g":"m","i":5,"e":"Ce","v":28},{"g":"m","i":5,"e":"Sr","v":1.4},{"g":"m","i":5,"e":"Nd","v":10},{"g":"m","i":5,"e":"P","v":1.3},{"g":"m","i":5,"e":"Zr","v":21},{"g":"m","i":5,"e":"Hf","v":7},{"g":"m","i":5,"e":"Sm","v":6.5},{"g":"m","i":5,"e":"Ti","v":0.095},{"g":"m","i":5,"e":"Y","v":6},{"g":"m","i":5,"e":"Yb","v":4.8},{"g":"m","i":5,"e":"Lu","v":5.5},
{"g":"g","i":1,"e":"Rb","v":1000},{"g":"g","i":1,"e":"Ba","v":5},{"g":"g","i":1,"e":"Th","v":600},{"g":"g","i":1,"e":"U","v":700},{"g":"g","i":1,"e":"K","v":170},{"g":"g","i":1,"e":"Ta","v":170},{"g":"g","i":1,"e":"Nb","v":110},{"g":"g","i":1,"e":"La","v":60},{"g":"g","i":1,"e":"Ce","v":45},{"g":"g","i":1,"e":"Sr","v":0.3},{"g":"g","i":1,"e":"Nd","v":12},{"g":"g","i":1,"e":"P","v":1.2},{"g":"g","i":1,"e":"Zr","v":75},{"g":"g","i":1,"e":"Hf","v":40},{"g":"g","i":1,"e":"Sm","v":2.8},{"g":"g","i":1,"e":"Ti","v":0.3},{"g":"g","i":1,"e":"Y","v":7},{"g":"g","i":1,"e":"Yb","v":15},{"g":"g","i":1,"e":"Lu","v":20},
{"g":"g","i":2,"e":"Rb","v":900},{"g":"g","i":2,"e":"Ba","v":4},{"g":"g","i":2,"e":"Th","v":450},{"g":"g","i":2,"e":"U","v":500},{"g":"g","i":2,"e":"K","v":160},{"g":"g","i":2,"e":"Ta","v":120},{"g":"g","i":2,"e":"Nb","v":80},{"g":"g","i":2,"e":"La","v":50},{"g":"g","i":2,"e":"Ce","v":35},{"g":"g","i":2,"e":"Sr","v":0.2},{"g":"g","i":2,"e":"Nd","v":8},{"g":"g","i":2,"e":"P","v":0.9},{"g":"g","i":2,"e":"Zr","v":60},{"g":"g","i":2,"e":"Hf","v":30},{"g":"g","i":2,"e":"Sm","v":2.2},{"g":"g","i":2,"e":"Ti","v":0.2},{"g":"g","i":2,"e":"Y","v":6},{"g":"g","i":2,"e":"Yb","v":13},{"g":"g","i":2,"e":"Lu","v":17},
{"g":"g","i":3,"e":"Rb","v":800},{"g":"g","i":3,"e":"Ba","v":3.5},{"g":"g","i":3,"e":"Th","v":300},{"g":"g","i":3,"e":"U","v":350},{"g":"g","i":3,"e":"K","v":150},{"g":"g","i":3,"e":"Ta","v":90},{"g":"g","i":3,"e":"Nb","v":65},{"g":"g","i":3,"e":"La","v":40},{"g":"g","i":3,"e":"Ce","v":28},{"g":"g","i":3,"e":"Sr","v":0.18},{"g":"g","i":3,"e":"Nd","v":6},{"g":"g","i":3,"e":"P","v":0.7},{"g":"g","i":3,"e":"Zr","v":45},{"g":"g","i":3,"e":"Hf","v":25},{"g":"g","i":3,"e":"Sm","v":1.8},{"g":"g","i":3,"e":"Ti","v":0.15},{"g":"g","i":3,"e":"Y","v":5},{"g":"g","i":3,"e":"Yb","v":12},{"g":"g","i":3,"e":"Lu","v":15},
{"g":"g","i":4,"e":"Rb","v":700},{"g":"g","i":4,"e":"Ba","v":3},{"g":"g","i":4,"e":"Th","v":200},{"g":"g","i":4,"e":"U","v":250},{"g":"g","i":4,"e":"K","v":140},{"g":"g","i":4,"e":"Ta","v":70},{"g":"g","i":4,"e":"Nb","v":55},{"g":"g","i":4,"e":"La","v":30},{"g":"g","i":4,"e":"Ce","v":20},{"g":"g","i":4,"e":"Sr","v":0.16},{"g":"g","i":4,"e":"Nd","v":4},{"g":"g","i":4,"e":"P","v":0.5},{"g":"g","i":4,"e":"Zr","v":35},{"g":"g","i":4,"e":"Hf","v":20},{"g":"g","i":4,"e":"Sm","v":1.4},{"g":"g","i":4,"e":"Ti","v":0.1},{"g":"g","i":4,"e":"Y","v":4.5},{"g":"g","i":4,"e":"Yb","v":11},{"g":"g","i":4,"e":"Lu","v":14},
{"g":"g","i":5,"e":"Rb","v":650},{"g":"g","i":5,"e":"Ba","v":2.5},{"g":"g","i":5,"e":"Th","v":150},{"g":"g","i":5,"e":"U","v":200},{"g":"g","i":5,"e":"K","v":130},{"g":"g","i":5,"e":"Ta","v":55},{"g":"g","i":5,"e":"Nb","v":45},{"g":"g","i":5,"e":"La","v":17},{"g":"g","i":5,"e":"Ce","v":11},{"g":"g","i":5,"e":"Sr","v":0.17},{"g":"g","i":5,"e":"Nd","v":2.8},{"g":"g","i":5,"e":"P","v":0.42},{"g":"g","i":5,"e":"Zr","v":28},{"g":"g","i":5,"e":"Hf","v":16},{"g":"g","i":5,"e":"Sm","v":1.1},{"g":"g","i":5,"e":"Ti","v":0.045},{"g":"g","i":5,"e":"Y","v":2.5},{"g":"g","i":5,"e":"Yb","v":10},{"g":"g","i":5,"e":"Lu","v":13},
{"g":"b","i":1,"e":"Rb","v":750},{"g":"b","i":1,"e":"Ba","v":2.8},{"g":"b","i":1,"e":"Th","v":750},{"g":"b","i":1,"e":"U","v":470},{"g":"b","i":1,"e":"K","v":160},{"g":"b","i":1,"e":"Ta","v":72},{"g":"b","i":1,"e":"Nb","v":55},{"g":"b","i":1,"e":"La","v":55},{"g":"b","i":1,"e":"Ce","v":35},{"g":"b","i":1,"e":"Sr","v":0.38},{"g":"b","i":1,"e":"Nd","v":8},{"g":"b","i":1,"e":"P","v":0.9},{"g":"b","i":1,"e":"Zr","v":11},{"g":"b","i":1,"e":"Hf","v":18},{"g":"b","i":1,"e":"Sm","v":3.2},{"g":"b","i":1,"e":"Ti","v":0.45},{"g":"b","i":1,"e":"Y","v":6.5},{"g":"b","i":1,"e":"Yb","v":11},{"g":"b","i":1,"e":"Lu","v":14},
{"g":"b","i":2,"e":"Rb","v":720},{"g":"b","i":2,"e":"Ba","v":2.6},{"g":"b","i":2,"e":"Th","v":650},{"g":"b","i":2,"e":"U","v":300},{"g":"b","i":2,"e":"K","v":155},{"g":"b","i":2,"e":"Ta","v":50},{"g":"b","i":2,"e":"Nb","v":48},{"g":"b","i":2,"e":"La","v":50},{"g":"b","i":2,"e":"Ce","v":30},{"g":"b","i":2,"e":"Sr","v":0.32},{"g":"b","i":2,"e":"Nd","v":7.5},{"g":"b","i":2,"e":"P","v":0.85},{"g":"b","i":2,"e":"Zr","v":10},{"g":"b","i":2,"e":"Hf","v":16},{"g":"b","i":2,"e":"Sm","v":3.0},{"g":"b","i":2,"e":"Ti","v":0.42},{"g":"b","i":2,"e":"Y","v":6},{"g":"b","i":2,"e":"Yb","v":10},{"g":"b","i":2,"e":"Lu","v":13},
{"g":"b","i":3,"e":"Rb","v":700},{"g":"b","i":3,"e":"Ba","v":2.5},{"g":"b","i":3,"e":"Th","v":550},{"g":"b","i":3,"e":"U","v":260},{"g":"b","i":3,"e":"K","v":150},{"g":"b","i":3,"e":"Ta","v":45},{"g":"b","i":3,"e":"Nb","v":35},{"g":"b","i":3,"e":"La","v":35},{"g":"b","i":3,"e":"Ce","v":24},{"g":"b","i":3,"e":"Sr","v":0.28},{"g":"b","i":3,"e":"Nd","v":7},{"g":"b","i":3,"e":"P","v":0.85},{"g":"b","i":3,"e":"Zr","v":8.5},{"g":"b","i":3,"e":"Hf","v":14},{"g":"b","i":3,"e":"Sm","v":2.8},{"g":"b","i":3,"e":"Ti","v":0.4},{"g":"b","i":3,"e":"Y","v":5.8},{"g":"b","i":3,"e":"Yb","v":10},{"g":"b","i":3,"e":"Lu","v":13},
{"g":"b","i":4,"e":"Rb","v":760},{"g":"b","i":4,"e":"Ba","v":1.8},{"g":"b","i":4,"e":"Th","v":380},{"g":"b","i":4,"e":"U","v":270},{"g":"b","i":4,"e":"K","v":150},{"g":"b","i":4,"e":"Ta","v":45},{"g":"b","i":4,"e":"Nb","v":32},{"g":"b","i":4,"e":"La","v":36},{"g":"b","i":4,"e":"Ce","v":23},{"g":"b","i":4,"e":"Sr","v":0.25},{"g":"b","i":4,"e":"Nd","v":4.2},{"g":"b","i":4,"e":"P","v":0.45},{"g":"b","i":4,"e":"Zr","v":9.5},{"g":"b","i":4,"e":"Hf","v":13.5},{"g":"b","i":4,"e":"Sm","v":1.6},{"g":"b","i":4,"e":"Ti","v":0.4},{"g":"b","i":4,"e":"Y","v":3.5},{"g":"b","i":4,"e":"Yb","v":7.5},{"g":"b","i":4,"e":"Lu","v":9.5}
]
},
"columns": 2,
"spacing": {"row": 56, "column": 148},
"bounds": "flush",
"align": "each",
"resolve": {
 "scale": {"fill": "independent", "stroke": "independent", "shape": "independent", "size": "independent", "strokeWidth": "independent"},
 "legend": {"fill": "independent", "stroke": "independent", "shape": "independent", "size": "independent", "strokeWidth": "independent"}
},
"concat": [
{
 "width": 467, "height": 368,
 "data": {"name": "a"},
 "title": {"text": "a", "anchor": "start", "frame": "group", "orient": "top", "baseline": "top", "offset": -32, "dx": 5, "font": "Liberation Serif", "fontSize": 17, "fontWeight": "bold", "color": "#000"},
 "encoding": {
  "x": {"field": "e", "type": "nominal", "scale": {"type": "point", "domain": ["La","Ce","Pr","Nd","Pm","Sm","Eu","Gd","Tb","Dy","Ho","Er","Tm","Yb","Lu"], "padding": 1},
        "axis": {"title": null, "labelAngle": 0, "labelExpr": "datum.value == 'Pm' ? '' : datum.value", "tickSize": -9, "labelPadding": 18, "labelBaseline": "top"}},
  "y": {"field": "v", "type": "quantitative", "scale": {"type": "log", "domain": [2, 300], "nice": false},
        "axis": {"title": "岩石/球粒陨石", "values": [2,3,4,5,6,7,8,9,10,20,30,40,50,60,70,80,90,100,200,300],
                 "labelExpr": "indexof([2,10,100,300], datum.value) >= 0 ? format(datum.value, '') : ''",
                 "tickSize": {"condition": {"test": "indexof([2,10,100,300], datum.value) >= 0", "value": -13}, "value": -8},
                 "labelPadding": 18, "titleX": -55, "titleY": 200, "titleBaseline": "middle", "titleAngle": -90, "titleAlign": "center"}}
 },
 "layer": [
  {"mark": {"type": "line", "strokeWidth": 0.9},
   "encoding": {"detail": [{"field": "g", "type": "nominal"}, {"field": "i", "type": "nominal"}],
                "stroke": {"field": "g", "type": "nominal", "scale": {"domain": ["m","z"], "range": ["#8ed4d1","#c66bb0"]}, "legend": null},
                "order": {"value": null}}},
  {"mark": {"type": "point", "filled": true, "size": 144, "opacity": 1, "strokeWidth": 0},
   "encoding": {
    "fill": {"field": "g", "type": "nominal", "scale": {"domain": ["m","z"], "range": ["#8ed4d1","#c66bb0"]}, "legend": null},
    "shape": {"field": "g", "type": "nominal", "scale": {"domain": ["m","z"], "range": ["M-1,-1H1V1H-1Z M-0.75,-0.75V0.75H0V-0.75Z", "M-1,-1H1V1H-1Z M-0.75,0V0.75H0.75V0Z"]}, "legend": null}
   }},
  {"data": {"values": [{"g": "m", "t": "粗中粒二长花岗岩"}]},
   "encoding": {"x": {"datum": "Tb", "type": "nominal"}, "y": {"datum": 202, "type": "quantitative"}},
   "layer": [
    {"mark": {"type": "point", "filled": true, "size": 144, "opacity": 1, "strokeWidth": 0},
     "encoding": {"fill": {"field": "g", "type": "nominal", "scale": {"domain": ["m","z"], "range": ["#8ed4d1","#c66bb0"]}, "legend": null},
                  "shape": {"field": "g", "type": "nominal", "scale": {"domain": ["m","z"], "range": ["M-1,-1H1V1H-1Z M-0.75,-0.75V0.75H0V-0.75Z", "M-1,-1H1V1H-1Z M-0.75,0V0.75H0.75V0Z"]}, "legend": null}}},
    {"mark": {"type": "text", "align": "left", "baseline": "middle", "dx": 21, "font": "Noto Sans CJK SC", "fontSize": 20, "color": "#222"},
     "encoding": {"text": {"field": "t", "type": "nominal"}}}
   ]},
  {"data": {"values": [{"g": "z", "t": "粗中粒正长花岗岩"}]},
   "encoding": {"x": {"datum": "Tb", "type": "nominal"}, "y": {"datum": 136, "type": "quantitative"}},
   "layer": [
    {"mark": {"type": "point", "filled": true, "size": 144, "opacity": 1, "strokeWidth": 0},
     "encoding": {"fill": {"field": "g", "type": "nominal", "scale": {"domain": ["m","z"], "range": ["#8ed4d1","#c66bb0"]}, "legend": null},
                  "shape": {"field": "g", "type": "nominal", "scale": {"domain": ["m","z"], "range": ["M-1,-1H1V1H-1Z M-0.75,-0.75V0.75H0V-0.75Z", "M-1,-1H1V1H-1Z M-0.75,0V0.75H0.75V0Z"]}, "legend": null}}},
    {"mark": {"type": "text", "align": "left", "baseline": "middle", "dx": 21, "font": "Noto Sans CJK SC", "fontSize": 20, "color": "#222"},
     "encoding": {"text": {"field": "t", "type": "nominal"}}}
   ]}
 ]
},
{
 "width": 471, "height": 368,
 "data": {"name": "b"},
 "title": {"text": "b", "anchor": "start", "frame": "group", "orient": "top", "baseline": "top", "offset": -32, "dx": 17, "font": "Liberation Serif", "fontSize": 17, "fontWeight": "bold", "color": "#000"},
 "encoding": {
  "x": {"field": "e", "type": "nominal", "scale": {"type": "point", "domain": ["Rb","Ba","Th","U","K","Ta","Nb","La","Ce","Sr","Nd","P","Zr","Hf","Sm","Ti","Y","Yb","Lu"], "padding": 1},
        "axis": {"title": null, "labelAngle": 0, "tickSize": -9, "labelBaseline": "top",
                 "labelPadding": {"condition": {"test": "indexof(['Ba','U','Ta','La','Sr','P','Hf','Ti','Yb'], datum.value) >= 0", "value": 28}, "value": 19}}},
  "y": {"field": "v", "type": "quantitative", "scale": {"type": "log", "domain": [0.01, 10000], "nice": false},
        "axis": {"title": "岩石/原始地幔", "values": [0.01,0.02,0.03,0.04,0.05,0.06,0.07,0.08,0.09,0.1,0.2,0.3,0.4,0.5,0.6,0.7,0.8,0.9,1,2,3,4,5,6,7,8,9,10,20,30,40,50,60,70,80,90,100,200,300,400,500,600,700,800,900,1000,2000,3000,4000,5000,6000,7000,8000,9000,10000],
                 "labelExpr": "indexof([0.01,0.1,1,10,100,1000,10000], datum.value) >= 0 ? format(datum.value, '') : ''",
                 "tickSize": {"condition": {"test": "indexof([0.01,0.1,1,10,100,1000,10000], datum.value) >= 0", "value": -12}, "value": -7},
                 "labelPadding": 23, "titleX": -58, "titleY": 199, "titleBaseline": "middle", "titleAngle": -90, "titleAlign": "center"}}
 },
 "layer": [
  {"mark": {"type": "line", "strokeWidth": 0.9},
   "encoding": {"detail": [{"field": "g", "type": "nominal"}, {"field": "i", "type": "nominal"}],
                "stroke": {"field": "g", "type": "nominal", "scale": {"domain": ["m","z"], "range": ["#8ed4d1","#c66bb0"]}, "legend": null},
                "order": {"value": null}}},
  {"mark": {"type": "point", "filled": true, "size": 100, "opacity": 1, "strokeWidth": 0},
   "encoding": {
    "fill": {"field": "g", "type": "nominal", "scale": {"domain": ["m","z"], "range": ["#8ed4d1","#c66bb0"]}, "legend": null},
    "shape": {"field": "g", "type": "nominal", "scale": {"domain": ["m","z"], "range": ["M-1,-1H1V1H-1Z M-0.75,-0.75V0.75H0V-0.75Z", "M-1,-1H1V1H-1Z M-0.75,0V0.75H0.75V0Z"]}, "legend": null}
   }},
  {"data": {"values": [{"g": "m", "t": "粗中粒二长花岗岩"}]},
   "encoding": {"x": {"datum": "Nd", "type": "nominal"}, "y": {"datum": 3365, "type": "quantitative"}},
   "layer": [
    {"mark": {"type": "point", "filled": true, "size": 144, "opacity": 1, "strokeWidth": 0},
     "encoding": {"fill": {"field": "g", "type": "nominal", "scale": {"domain": ["m","z"], "range": ["#8ed4d1","#c66bb0"]}, "legend": null},
                  "shape": {"field": "g", "type": "nominal", "scale": {"domain": ["m","z"], "range": ["M-1,-1H1V1H-1Z M-0.75,-0.75V0.75H0V-0.75Z", "M-1,-1H1V1H-1Z M-0.75,0V0.75H0.75V0Z"]}, "legend": null}}},
    {"mark": {"type": "text", "align": "left", "baseline": "middle", "dx": 36, "font": "Noto Sans CJK SC", "fontSize": 20, "color": "#222"},
     "encoding": {"text": {"field": "t", "type": "nominal"}}}
   ]},
  {"data": {"values": [{"g": "z", "t": "粗中粒正长花岗岩"}]},
   "encoding": {"x": {"datum": "Nd", "type": "nominal"}, "y": {"datum": 1092, "type": "quantitative"}},
   "layer": [
    {"mark": {"type": "point", "filled": true, "size": 144, "opacity": 1, "strokeWidth": 0},
     "encoding": {"fill": {"field": "g", "type": "nominal", "scale": {"domain": ["m","z"], "range": ["#8ed4d1","#c66bb0"]}, "legend": null},
                  "shape": {"field": "g", "type": "nominal", "scale": {"domain": ["m","z"], "range": ["M-1,-1H1V1H-1Z M-0.75,-0.75V0.75H0V-0.75Z", "M-1,-1H1V1H-1Z M-0.75,0V0.75H0.75V0Z"]}, "legend": null}}},
    {"mark": {"type": "text", "align": "left", "baseline": "middle", "dx": 36, "font": "Noto Sans CJK SC", "fontSize": 20, "color": "#222"},
     "encoding": {"text": {"field": "t", "type": "nominal"}}}
   ]}
 ]
},
{
 "width": 467, "height": 368,
 "data": {"name": "c"},
 "title": {"text": "c", "anchor": "start", "frame": "group", "orient": "top", "baseline": "top", "offset": -32, "dx": 8, "font": "Liberation Serif", "fontSize": 17, "fontWeight": "bold", "color": "#000"},
 "encoding": {
  "x": {"field": "e", "type": "nominal", "scale": {"type": "point", "domain": ["La","Ce","Pr","Nd","Pm","Sm","Eu","Gd","Tb","Dy","Ho","Er","Tm","Yb","Lu"], "padding": 1},
        "axis": {"title": null, "labelAngle": 0, "labelExpr": "datum.value == 'Pm' ? '' : datum.value", "tickSize": -9, "labelPadding": 18, "labelBaseline": "top"}},
  "y": {"field": "v", "type": "quantitative", "scale": {"type": "log", "domain": [0.6, 200], "nice": false},
        "axis": {"title": "岩石/球粒陨石", "values": [0.6,0.7,0.8,0.9,1,2,3,4,5,6,7,8,9,10,20,30,40,50,60,70,80,90,100,200],
                 "labelExpr": "indexof([0.6,1,10,100,200], datum.value) >= 0 ? format(datum.value, '') : ''",
                 "tickSize": {"condition": {"test": "indexof([0.6,1,10,100,200], datum.value) >= 0", "value": -13}, "value": -8},
                 "labelPadding": 18, "titleX": -55, "titleY": 190, "titleBaseline": "middle", "titleAngle": -90, "titleAlign": "center"}}
 },
 "layer": [
  {"mark": {"type": "line"},
   "encoding": {"detail": [{"field": "g", "type": "nominal"}, {"field": "i", "type": "nominal"}],
                "stroke": {"field": "g", "type": "nominal", "scale": {"domain": ["b","g","m"], "range": ["#2e3690","#7cc95e","#b867bb"]}, "legend": null},
                "strokeWidth": {"field": "g", "type": "nominal", "scale": {"domain": ["b","g","m"], "range": [2.6,0.8,0.8]}, "legend": null},
                "order": {"value": null}}},
  {"mark": {"type": "point", "filled": true, "opacity": 1, "strokeWidth": 1},
   "encoding": {
    "size": {"field": "g", "type": "nominal", "scale": {"domain": ["b","g","m"], "range": [150,120,100]}, "legend": null},
    "fill": {"field": "g", "type": "nominal", "scale": {"domain": ["b","g","m"], "range": ["#2e3690","transparent","#b867bb"]}, "legend": null},
    "stroke": {"field": "g", "type": "nominal", "scale": {"domain": ["b","g","m"], "range": ["#2e3690","#7cc95e","#b867bb"]}, "legend": null},
    "shape": {"field": "g", "type": "nominal", "scale": {"domain": ["b","g","m"], "range": ["diamond","triangle-up","M0,-1A1,1,0,1,1,0,1A1,1,0,1,1,0,-1Z M-0.1,-0.78A0.78,0.78,0,0,0,-0.1,0.78Z"]}, "legend": null}
   }},
  {"data": {"values": [{"g": "b", "t": "中细粒似斑状正长花岗岩(据文献[30])", "e": "Nd", "v": 145.8}, {"g": "g", "t": "中细粒似斑状正长花岗岩", "e": "Gd", "v": 96.8}, {"g": "m", "t": "细粒似斑状正长花岗岩", "e": "Gd", "v": 63.2}]},
   "layer": [
    {"mark": {"type": "point", "filled": true, "opacity": 1, "strokeWidth": 1},
     "encoding": {
      "size": {"field": "g", "type": "nominal", "scale": {"domain": ["b","g","m"], "range": [150,120,100]}, "legend": null},
      "fill": {"field": "g", "type": "nominal", "scale": {"domain": ["b","g","m"], "range": ["#2e3690","transparent","#b867bb"]}, "legend": null},
      "stroke": {"field": "g", "type": "nominal", "scale": {"domain": ["b","g","m"], "range": ["#2e3690","#7cc95e","#b867bb"]}, "legend": null},
      "shape": {"field": "g", "type": "nominal", "scale": {"domain": ["b","g","m"], "range": ["diamond","triangle-up","M0,-1A1,1,0,1,1,0,1A1,1,0,1,1,0,-1Z M-0.1,-0.78A0.78,0.78,0,0,0,-0.1,0.78Z"]}, "legend": null}}},
    {"mark": {"type": "text", "align": "left", "baseline": "middle", "dx": 12, "font": "Noto Sans CJK SC", "fontSize": 20, "color": "#222"},
     "encoding": {"text": {"field": "t", "type": "nominal"}}}
   ]}
 ]
},
{
 "width": 471, "height": 368,
 "data": {"name": "d"},
 "title": {"text": "d", "anchor": "start", "frame": "group", "orient": "top", "baseline": "top", "offset": -32, "dx": 17, "font": "Liberation Serif", "fontSize": 17, "fontWeight": "bold", "color": "#000"},
 "encoding": {
  "x": {"field": "e", "type": "nominal", "scale": {"type": "point", "domain": ["Rb","Ba","Th","U","K","Ta","Nb","La","Ce","Sr","Nd","P","Zr","Hf","Sm","Ti","Y","Yb","Lu"], "padding": 1},
        "axis": {"title": null, "labelAngle": 0, "tickSize": -9, "labelBaseline": "top",
                 "labelPadding": {"condition": {"test": "indexof(['Ba','U','Ta','La','Sr','P','Hf','Ti','Yb'], datum.value) >= 0", "value": 24}, "value": 17}}},
  "y": {"field": "v", "type": "quantitative", "scale": {"type": "log", "domain": [0.01, 10000], "nice": false},
        "axis": {"title": "岩石/原始地幔", "values": [0.01,0.02,0.03,0.04,0.05,0.06,0.07,0.08,0.09,0.1,0.2,0.3,0.4,0.5,0.6,0.7,0.8,0.9,1,2,3,4,5,6,7,8,9,10,20,30,40,50,60,70,80,90,100,200,300,400,500,600,700,800,900,1000,2000,3000,4000,5000,6000,7000,8000,9000,10000],
                 "labelExpr": "indexof([0.01,0.1,1,10,100,1000,10000], datum.value) >= 0 ? format(datum.value, '') : ''",
                 "tickSize": {"condition": {"test": "indexof([0.01,0.1,1,10,100,1000,10000], datum.value) >= 0", "value": -12}, "value": -7},
                 "labelPadding": 23, "titleX": -58, "titleY": 195, "titleBaseline": "middle", "titleAngle": -90, "titleAlign": "center"}}
 },
 "layer": [
  {"mark": {"type": "line"},
   "encoding": {"detail": [{"field": "g", "type": "nominal"}, {"field": "i", "type": "nominal"}],
                "stroke": {"field": "g", "type": "nominal", "scale": {"domain": ["b","g","m"], "range": ["#2e3690","#7cc95e","#b867bb"]}, "legend": null},
                "strokeWidth": {"field": "g", "type": "nominal", "scale": {"domain": ["b","g","m"], "range": [1.3,0.8,0.8]}, "legend": null},
                "order": {"value": null}}},
  {"mark": {"type": "point", "filled": true, "opacity": 1, "strokeWidth": 1},
   "encoding": {
    "size": {"field": "g", "type": "nominal", "scale": {"domain": ["b","g","m"], "range": [120,100,90]}, "legend": null},
    "fill": {"field": "g", "type": "nominal", "scale": {"domain": ["b","g","m"], "range": ["#2e3690","transparent","#b867bb"]}, "legend": null},
    "stroke": {"field": "g", "type": "nominal", "scale": {"domain": ["b","g","m"], "range": ["#2e3690","#7cc95e","#b867bb"]}, "legend": null},
    "shape": {"field": "g", "type": "nominal", "scale": {"domain": ["b","g","m"], "range": ["diamond","triangle-up","M0,-1A1,1,0,1,1,0,1A1,1,0,1,1,0,-1Z M-0.1,-0.78A0.78,0.78,0,0,0,-0.1,0.78Z"]}, "legend": null}
   }},
  {"data": {"values": [{"g": "b", "t": "中细粒似斑状正长花岗岩(据文献[30])", "e": "K", "v": 4720}, {"g": "g", "t": "中细粒似斑状正长花岗岩", "e": "Sr", "v": 1648}, {"g": "m", "t": "细粒似斑状正长花岗岩", "e": "Sr", "v": 598}]},
   "layer": [
    {"mark": {"type": "point", "filled": true, "opacity": 1, "strokeWidth": 1},
     "encoding": {
      "size": {"field": "g", "type": "nominal", "scale": {"domain": ["b","g","m"], "range": [120,100,90]}, "legend": null},
      "fill": {"field": "g", "type": "nominal", "scale": {"domain": ["b","g","m"], "range": ["#2e3690","transparent","#b867bb"]}, "legend": null},
      "stroke": {"field": "g", "type": "nominal", "scale": {"domain": ["b","g","m"], "range": ["#2e3690","#7cc95e","#b867bb"]}, "legend": null},
      "shape": {"field": "g", "type": "nominal", "scale": {"domain": ["b","g","m"], "range": ["diamond","triangle-up","M0,-1A1,1,0,1,1,0,1A1,1,0,1,1,0,-1Z M-0.1,-0.78A0.78,0.78,0,0,0,-0.1,0.78Z"]}, "legend": null}}},
    {"mark": {"type": "text", "align": "left", "baseline": "middle", "dx": 10, "font": "Noto Sans CJK SC", "fontSize": 20, "color": "#222"},
     "encoding": {"text": {"field": "t", "type": "nominal"}}}
   ]}
 ]
}
],
"config": {
 "view": {"stroke": "#000", "strokeWidth": 2},
 "axis": {"grid": false, "domainColor": "#000", "domainWidth": 2, "tickColor": "#000", "tickWidth": 1.5, "labelFont": "Liberation Serif", "labelFontSize": 18, "labelColor": "#111", "titleFont": "Noto Sans CJK SC", "titleFontSize": 20, "titleFontWeight": "normal", "titleColor": "#333", "labelOverlap": false, "labelBound": false, "labelFlush": false}
}
}
